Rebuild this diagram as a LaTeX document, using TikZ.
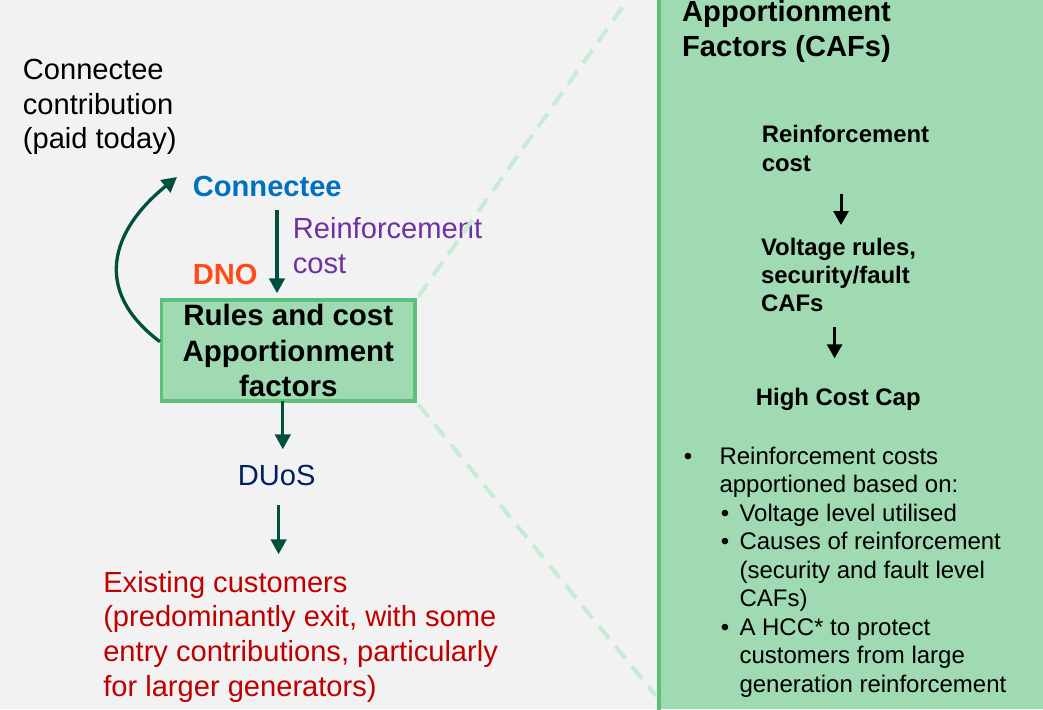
\documentclass[tikz,border=0pt]{standalone}
\usepackage{fontspec}
\setmainfont{Liberation Sans}
\usetikzlibrary{arrows.meta}
\definecolor{bgcol}{HTML}{F2F2F2}
\definecolor{panelcol}{HTML}{A0DAB3}
\definecolor{pborder}{HTML}{5CC07A}
\definecolor{dashcol}{HTML}{C6ECD3}
\definecolor{darkgreen}{HTML}{00503F}
\definecolor{cblue}{HTML}{0070C0}
\definecolor{cpurple}{HTML}{7030A0}
\definecolor{corange}{HTML}{FF4B1A}
\definecolor{cnavy}{HTML}{002060}
\definecolor{cred}{HTML}{C00000}
\begin{document}
\begin{tikzpicture}[x=1pt,y=-1pt,
 big/.style={font=\fontsize{29.1}{34.5}\selectfont, inner sep=0pt, anchor=base west},
 bigb/.style={big, font=\fontsize{29.1}{34.5}\selectfont\bfseries},
 small/.style={font=\fontsize{24}{28.5}\selectfont, inner sep=0pt, anchor=base west},
 smallb/.style={small, font=\fontsize{23.9}{28.5}\selectfont\bfseries},
 garrow/.style={draw=darkgreen, line width=3.3pt, -{Triangle[length=15pt,width=15.5pt]}},
 karrow/.style={draw=black, line width=3pt, -{Triangle[length=14pt,width=15pt]}},
 guide/.style={draw=dashcol, line width=4pt, dash pattern=on 16pt off 10pt},
 rulesbox/.style={draw=pborder, fill=panelcol, line width=3.3pt, minimum width=253.4pt,
   minimum height=101.1pt, inner sep=0pt, align=center,
   font=\fontsize{29.5}{35.5}\selectfont\bfseries},
]
\useasboundingbox (0,0) rectangle (1043,709);
\fill[bgcol] (0,0) rectangle (1043,709);

% right panel
\fill[panelcol] (659,0) rectangle (1043,709);
\draw[pborder, line width=3.5pt] (659,-2) -- (659,711);

% box node
\node[rulesbox] (rules) at (288.3,350.5) {Rules and cost\\Apportionment\\factors};

% left texts
\node[big] (cc1) at (22.7,79.3) {Connectee};
\node[big] (cc2) at (22.7,114) {contribution};
\node[big] (cc3) at (22.7,148.5) {(paid today)};
\node[bigb, text=cblue] (connectee) at (192.7,196.7) {Connectee};
\node[big, text=cpurple] (rc1) at (292.7,238.3) {Reinforcement};
\node[big, text=cpurple] (rc2) at (292.7,273.3) {cost};
\node[bigb, text=corange] (dno) at (192.7,284.3) {DNO};
\node[big, text=cnavy, anchor=base] (duos) at (276.7,485) {DUoS};
\node[big, text=cred] (ex1) at (103.1,592.3) {Existing customers};
\node[big, text=cred] (ex2) at (103.1,626.9) {(predominantly exit, with some};
\node[big, text=cred] (ex3) at (103.1,661.7) {entry contributions, particularly};
\node[big, text=cred] (ex4) at (103.1,696.5) {for larger generators)};

% zoom guides (over the text, from the box corners to the panel)
\coordinate (gtop) at (632.5,-7);
\coordinate (gbot) at (656,696);
\draw[guide] ([xshift=1.6pt,yshift=1.6pt]rules.north east) -- (gtop);
\draw[guide] ([xshift=1.6pt,yshift=-1.6pt]rules.south east) -- (gbot);

% left arrows
\coordinate (a1s) at (277,210);
\coordinate (a1e) at (277,293.3);
\coordinate (a2e) at (282.8,449.3);
\coordinate (a3s) at (278.6,505);
\coordinate (a3e) at (278.6,554.3);
\coordinate (ctip) at (177,177);
\draw[garrow] (a1s) -- (a1e);
\draw[garrow] ([xshift=-5.5pt,yshift=1.5pt]rules.south) -- (a2e);
\draw[garrow] (a3s) -- (a3e);
\draw[garrow] ([yshift=8.8pt]rules.west) .. controls (92,290.7) and (110.7,230.6) .. (ctip);

% right panel texts
\node[bigb] (t1) at (682,21.7) {Apportionment};
\node[bigb] (t2) at (682,56.7) {Factors (CAFs)};
\node[smallb] (r1) at (761.6,142.7) {Reinforcement};
\node[smallb] (r2) at (761.6,171.7) {cost};
\node[smallb] (v1) at (760.8,255) {Voltage rules,};
\node[smallb] (v2) at (760.8,283.3) {security/fault};
\node[smallb] (v3) at (760.8,311.7) {CAFs};
\node[smallb, anchor=base] (hcc) at (838.3,405) {High Cost Cap};

\coordinate (k1s) at (841,194);
\coordinate (k1e) at (841,225);
\coordinate (k2s) at (834.6,327.3);
\coordinate (k2e) at (834.6,358.3);
\draw[karrow] (k1s) -- (k1e);
\draw[karrow] (k2s) -- (k2e);

% bullets
\node[small, anchor=base] (bu0) at (688,464.3) {•};
\node[small] (b1) at (719.3,464.3) {Reinforcement costs};
\node[small] (b2) at (719.3,492.8) {apportioned based on:};
\node[small, anchor=base] (bu1) at (725,521.3) {•};
\node[small] (b3) at (739.3,521.3) {Voltage level utilised};
\node[small, anchor=base] (bu2) at (725,549.8) {•};
\node[small] (b4) at (739.3,549.8) {Causes of reinforcement};
\node[small] (b5) at (739.3,578.3) {(security and fault level};
\node[small] (b6) at (739.3,606.8) {CAFs)};
\node[small, anchor=base] (bu3) at (725,635.3) {•};
\node[small] (b7) at (739.3,635.3) {A HCC* to protect};
\node[small] (b8) at (739.3,663.8) {customers from large};
\node[small] (b9) at (739.3,692.3) {generation reinforcement};
\end{tikzpicture}
\end{document}
